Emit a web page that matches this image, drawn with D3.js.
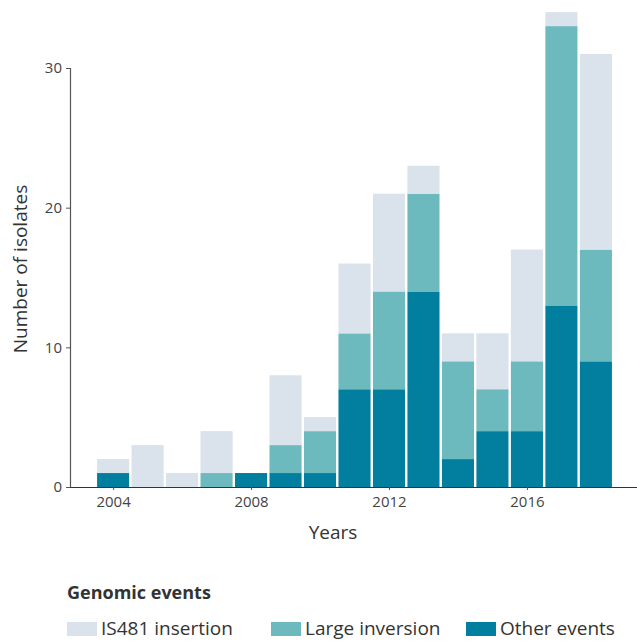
<!DOCTYPE html>
<html><head><meta charset="utf-8">
<script src="https://cdn.jsdelivr.net/npm/d3@7"></script>
<style>body{margin:0;background:#fff}svg{display:block}text{font-family:"Open Sans","Noto Sans",sans-serif}</style>
</head><body><svg id="c" width="637" height="641"></svg>
<script>
const years = [2004,2005,2006,2007,2008,2009,2010,2011,2012,2013,2014,2015,2016,2017,2018];
const otherEvents   = [1,0,0,0,1,1,1,7,7,14,2,4,4,13,9];
const largeInversion= [0,0,0,1,0,2,3,4,7,7,7,3,5,20,8];
const is481         = [1,3,1,3,0,5,1,5,7,2,2,4,8,1,14];
const seriesNames = ["Other events","Large inversion","IS481 insertion"];
const colors = {"IS481 insertion":"#dae2eb","Large inversion":"#6cb9be","Other events":"#027e9f"};
const yTicks = [0,10,20,30];
const xTicks = [2004,2008,2012,2016];

const svg = d3.select("#c");
const x = d3.scaleLinear().domain([2002.75,2019.25]).range([70,639]);
const y = d3.scaleLinear().domain([0,30]).range([487,68]);

const rows = years.map((yr,i)=>({year:yr,"Other events":otherEvents[i],"Large inversion":largeInversion[i],"IS481 insertion":is481[i]}));
const stack = d3.stack().keys(seriesNames)(rows);
const bw = 0.93;
svg.append("g").selectAll("g").data(stack).join("g").attr("fill",d=>colors[d.key])
  .selectAll("rect").data(d=>d).join("rect")
  .attr("x",d=>x(d.data.year-bw/2)).attr("width",x(bw)-x(0))
  .attr("y",d=>y(d[1])).attr("height",d=>y(d[0])-y(d[1]));

const yAxis = svg.append("g").attr("transform","translate(70,0)")
  .call(d3.axisLeft(y).tickValues(yTicks).tickSize(4).tickPadding(4));
yAxis.select(".domain").attr("stroke","#555").attr("stroke-width",1.2);
yAxis.selectAll(".tick line").attr("stroke","#555");
yAxis.selectAll(".tick text").attr("fill","#444").style("font-size","15px");

const xAxis = svg.append("g").attr("transform","translate(0,487)")
  .call(d3.axisBottom(x).tickValues(xTicks).tickFormat(d3.format("d")).tickSize(3).tickSizeOuter(0).tickPadding(6));
xAxis.select(".domain").attr("stroke","#333").attr("stroke-width",1.2);
xAxis.selectAll(".tick line").attr("stroke","#555");
xAxis.selectAll(".tick text").attr("fill","#444").style("font-size","15px");

svg.append("text").attr("x",333).attr("y",539).attr("text-anchor","middle").attr("fill","#333").style("font-size","19px").text("Years");
svg.append("text").attr("transform","translate(27,269) rotate(-90)").attr("text-anchor","middle").attr("fill","#333").style("font-size","19px").text("Number of isolates");

svg.append("text").attr("x",67).attr("y",599).attr("fill","#333").style("font-size","18px").style("font-weight","bold").text("Genomic events");
const legendItems = [["IS481 insertion",67],["Large inversion",271],["Other events",466]];
const lg = svg.append("g").selectAll("g").data(legendItems).join("g").attr("transform",d=>`translate(${d[1]},0)`);
lg.append("rect").attr("x",0).attr("y",622).attr("width",30).attr("height",14).attr("fill",d=>colors[d[0]]);
lg.append("text").attr("x",34).attr("y",635).attr("fill","#333").style("font-size","19px").text(d=>d[0]);
</script></body></html>
